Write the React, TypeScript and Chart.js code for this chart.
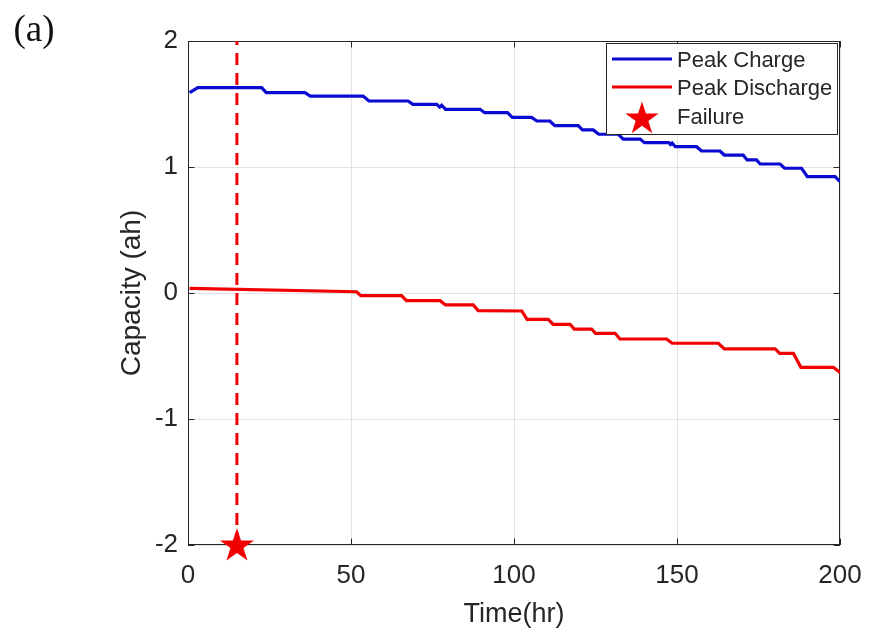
import React, { useEffect, useRef } from 'react';
import { Chart, registerables } from 'chart.js';

Chart.register(...registerables);

// ---- data ----
const chargeTime = [0.5, 3, 22.6, 24, 35.9, 37.5, 53.7, 55.5, 67.5, 69, 76.3, 77.2, 77.8, 79, 89.6, 91, 98, 99.5, 105.4, 107, 111, 112.5, 119.7, 121, 124.3, 126, 132, 133.5, 138.7, 140, 147.5, 148, 148.5, 149.5, 156, 157.5, 163.2, 164.5, 170.3, 171.5, 174.4, 175.5, 181.6, 183, 188.2, 190, 198.5, 200];
const chargeCap = [1.59, 1.63, 1.63, 1.59, 1.59, 1.563, 1.563, 1.524, 1.524, 1.497, 1.497, 1.475, 1.49, 1.458, 1.458, 1.431, 1.431, 1.394, 1.394, 1.365, 1.365, 1.328, 1.328, 1.294, 1.294, 1.26, 1.26, 1.222, 1.222, 1.193, 1.193, 1.178, 1.19, 1.161, 1.161, 1.127, 1.127, 1.095, 1.095, 1.056, 1.056, 1.024, 1.024, 0.99, 0.99, 0.923, 0.923, 0.883];

const dischargeTime = [0.5, 51.7, 53, 65.5, 67, 77.3, 79, 87.5, 89, 102.4, 104, 110.5, 112, 117.2, 118.5, 123.8, 125, 131, 132.5, 146.8, 148.5, 162.7, 164.5, 180.1, 181.5, 185.7, 188, 198, 200];
const dischargeCap = [0.037, 0.01, -0.021, -0.021, -0.061, -0.061, -0.095, -0.095, -0.14, -0.143, -0.209, -0.209, -0.249, -0.249, -0.286, -0.286, -0.32, -0.32, -0.365, -0.365, -0.399, -0.399, -0.444, -0.444, -0.479, -0.479, -0.59, -0.59, -0.632];

const failureTime = [15];
const failureCap = [-2];
const failureLineCap = [-2, 2];

const xTicks = [0, 50, 100, 150, 200];
const yTicks = [-2, -1, 0, 1, 2];
const seriesLabels = ['Peak Charge', 'Peak Discharge', 'Failure'];
const panelLabel = '(a)';

const BLUE = '#0a0ad2';
const RED = '#f00000';
const INK = '#262626';
const FONT = "'Liberation Sans', Arial, Helvetica, sans-serif";

function starPath(ctx: CanvasRenderingContext2D, cx: number, cy: number, R: number) {
  const r = R * 0.382;
  ctx.beginPath();
  for (let i = 0; i < 10; i++) {
    const rad = i % 2 === 0 ? R : r;
    const a = -Math.PI / 2 + (i * Math.PI) / 5;
    const x = cx + rad * Math.cos(a);
    const y = cy + rad * Math.sin(a);
    if (i === 0) ctx.moveTo(x, y);
    else ctx.lineTo(x, y);
  }
  ctx.closePath();
}

function makeStar(): HTMLCanvasElement {
  const c = document.createElement('canvas');
  c.width = 38;
  c.height = 38;
  const g = c.getContext('2d')!;
  starPath(g, 19, 20, 18);
  g.fillStyle = RED;
  g.fill();
  return c;
}

const framePlugin = {
  id: 'matlabFrame',
  beforeDatasetsDraw(chart: any) {
    const { ctx, chartArea, scales } = chart;
    const { left, right, top, bottom } = chartArea;
    ctx.save();
    ctx.strokeStyle = INK;
    ctx.lineWidth = 1;
    ctx.strokeRect(Math.round(left) + 0.5, Math.round(top) + 0.5, Math.round(right - left) - 1, Math.round(bottom - top) - 1);
    const L = 6.5;
    ctx.beginPath();
    scales.x.ticks.forEach((t: any) => {
      const px = Math.round(scales.x.getPixelForValue(t.value)) + 0.5;
      ctx.moveTo(px, bottom);
      ctx.lineTo(px, bottom - L);
      ctx.moveTo(px, top);
      ctx.lineTo(px, top + L);
    });
    scales.y.ticks.forEach((t: any) => {
      const py = Math.round(scales.y.getPixelForValue(t.value)) + 0.5;
      ctx.moveTo(left, py);
      ctx.lineTo(left + L, py);
      ctx.moveTo(right, py);
      ctx.lineTo(right - L, py);
    });
    ctx.stroke();
    ctx.restore();
  },
  afterDraw(chart: any) {
    const { ctx } = chart;
    ctx.save();
    // legend box
    const bx = 606, by = 43, bw = 232, bh = 92;
    ctx.fillStyle = '#ffffff';
    ctx.fillRect(bx, by, bw, bh);
    ctx.strokeStyle = INK;
    ctx.lineWidth = 1;
    ctx.strokeRect(bx + 0.5, by + 0.5, bw - 1, bh - 1);
    const rows = [59, 87, 118];
    ctx.lineWidth = 3.2;
    ctx.strokeStyle = BLUE;
    ctx.beginPath();
    ctx.moveTo(612, rows[0]);
    ctx.lineTo(672, rows[0]);
    ctx.stroke();
    ctx.strokeStyle = RED;
    ctx.beginPath();
    ctx.moveTo(612, rows[1]);
    ctx.lineTo(672, rows[1]);
    ctx.stroke();
    starPath(ctx, 642, rows[2] + 1, 17.5);
    ctx.fillStyle = RED;
    ctx.fill();
    ctx.fillStyle = INK;
    ctx.font = `22px ${FONT}`;
    ctx.textBaseline = 'middle';
    ctx.textAlign = 'left';
    ctx.fillText(seriesLabels[0], 677, 61);
    ctx.fillText(seriesLabels[1], 677, 89);
    ctx.fillText(seriesLabels[2], 677, 118);
    // panel label
    ctx.fillStyle = '#111111';
    ctx.font = "37px 'Liberation Serif', 'Times New Roman', serif";
    ctx.textAlign = 'center';
    ctx.fillText(panelLabel, 34, 31);
    ctx.restore();
  },
};

export default function App() {
  const ref = useRef<HTMLCanvasElement>(null);
  useEffect(() => {
    if (!ref.current) return;
    const starImg = makeStar();
    const chart = new Chart(ref.current, {
      type: 'line',
      data: {
        datasets: [
          {
            label: seriesLabels[0],
            data: chargeTime.map((t, i) => ({ x: t, y: chargeCap[i] })),
            borderColor: BLUE,
            backgroundColor: BLUE,
            borderWidth: 3.2,
            pointRadius: 0,
            tension: 0,
          },
          {
            label: seriesLabels[1],
            data: dischargeTime.map((t, i) => ({ x: t, y: dischargeCap[i] })),
            borderColor: RED,
            backgroundColor: RED,
            borderWidth: 3.2,
            pointRadius: 0,
            tension: 0,
          },
          {
            label: 'failure-line',
            data: failureLineCap.map((v) => ({ x: failureTime[0], y: v })),
            borderColor: RED,
            borderWidth: 3,
            borderDash: [12, 8],
            pointRadius: 0,
            clip: false as any,
          },
          {
            label: seriesLabels[2],
            data: failureTime.map((t, i) => ({ x: t, y: failureCap[i] })),
            showLine: false,
            pointStyle: starImg as any,
            pointRadius: 18,
            borderColor: RED,
            backgroundColor: RED,
            clip: false as any,
          },
        ],
      },
      options: {
        responsive: false,
        animation: false,
        events: [],
        layout: { padding: { top: 41, right: 29, left: 0, bottom: 0 } },
        plugins: { legend: { display: false }, tooltip: { enabled: false } },
        scales: {
          x: {
            type: 'linear',
            min: 0,
            max: 200,
            afterFit: (s: any) => { s.height = 93; s.paddingLeft = 0; s.paddingRight = 0; },
            afterBuildTicks: (s: any) => { s.ticks = xTicks.map((v) => ({ value: v })); },
            ticks: { color: INK, padding: 15, font: { size: 26, family: FONT }, maxRotation: 0 },
            grid: { color: '#e2e2e2', lineWidth: 1, drawTicks: false },
            border: { display: false },
            title: { display: true, text: 'Time(hr)', color: INK, font: { size: 27, family: FONT }, padding: { top: 0, bottom: 7 } },
          },
          y: {
            type: 'linear',
            min: -2,
            max: 2,
            afterFit: (s: any) => { s.width = 188; s.paddingTop = 0; s.paddingBottom = 0; },
            afterBuildTicks: (s: any) => { s.ticks = yTicks.map((v) => ({ value: v })); },
            ticks: { color: INK, padding: 10, font: { size: 26, family: FONT } },
            grid: { color: '#e2e2e2', lineWidth: 1, drawTicks: false },
            border: { display: false },
            title: { display: true, text: 'Capacity (ah)', color: INK, font: { size: 28, family: FONT }, padding: { top: 115, bottom: 0 } },
          },
        },
      },
      plugins: [framePlugin],
    });
    return () => chart.destroy();
  }, []);
  return (
    <div style={{ position: 'fixed', left: 0, top: 0, width: 869, height: 638, background: '#fff' }}>
      <canvas ref={ref} width={869} height={638} style={{ width: 869, height: 638 }} />
    </div>
  );
}
